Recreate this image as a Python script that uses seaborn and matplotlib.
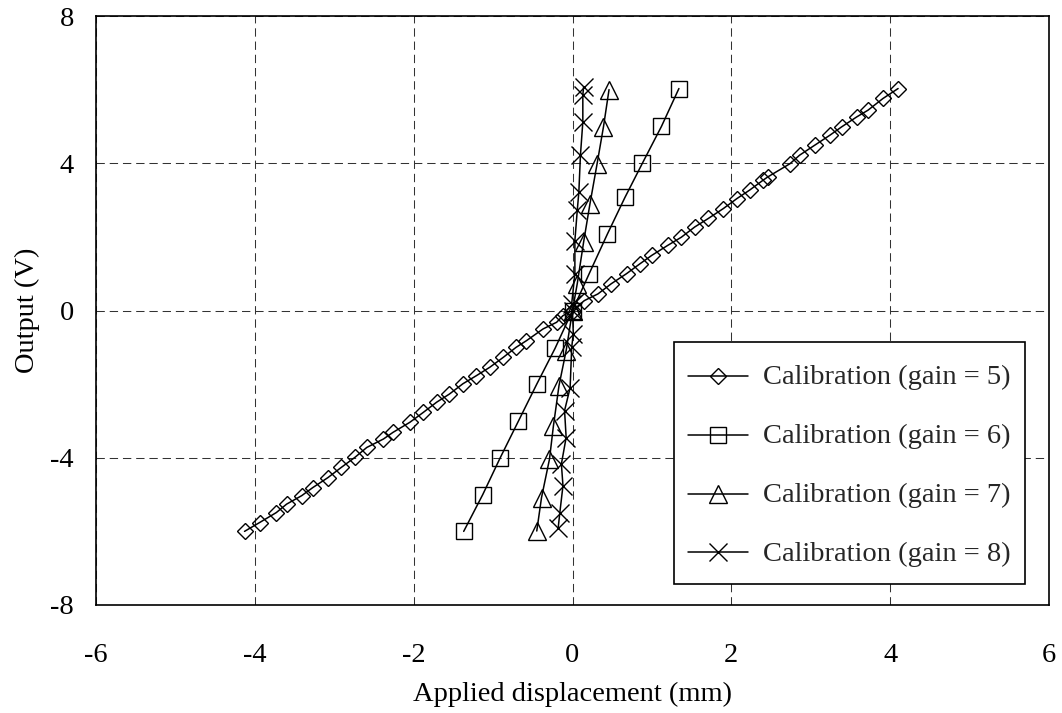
import matplotlib
matplotlib.use("Agg")
import matplotlib.pyplot as plt
from matplotlib.legend_handler import HandlerLine2D
import pandas as pd
import seaborn as sns

# Calibration readings: applied displacement (mm) vs. sensor output (V)
gain5_disp = [-4.13, -3.94, -3.73, -3.60, -3.41, -3.27, -3.08, -2.91, -2.74, -2.59,
              -2.38, -2.26, -2.05, -1.88, -1.71, -1.55, -1.38, -1.21, -1.04, -0.87,
              -0.71, -0.58, -0.37, -0.20, -0.12, 0.00, 0.15, 0.32, 0.49, 0.68,
              0.85, 1.00, 1.20, 1.37, 1.54, 1.71, 1.90, 2.07, 2.23, 2.40,
              2.46, 2.74, 2.86, 3.05, 3.24, 3.39, 3.58, 3.72, 3.91, 4.10]
gain5_out = [-6.00, -5.76, -5.49, -5.26, -5.03, -4.81, -4.54, -4.26, -3.99, -3.72,
             -3.49, -3.31, -3.04, -2.77, -2.49, -2.27, -1.99, -1.77, -1.54, -1.27,
             -1.00, -0.82, -0.50, -0.32, -0.14, 0.00, 0.27, 0.45, 0.73, 1.00,
             1.27, 1.50, 1.77, 1.99, 2.27, 2.50, 2.77, 3.04, 3.27, 3.54,
             3.63, 3.99, 4.22, 4.49, 4.76, 4.99, 5.26, 5.44, 5.76, 6.03]

gain6_disp = [-1.37, -1.13, -0.91, -0.68, -0.45, -0.22, 0.00, 0.21, 0.44, 0.66, 0.88, 1.12, 1.34]
gain6_out = [-6.00, -5.00, -4.00, -3.00, -2.00, -1.03, 0.00, 1.00, 2.08, 3.07, 4.00, 5.00, 6.03]

gain7_disp = [-0.45, -0.39, -0.29, -0.24, -0.17, -0.08, 0.00, 0.06, 0.14, 0.22, 0.31, 0.39, 0.46]
gain7_out = [-5.99, -5.08, -4.04, -3.13, -2.04, -1.09, 0.00, 0.73, 1.86, 2.90, 3.99, 4.99, 6.00]

gain8_disp = [-0.18, -0.16, -0.12, -0.14, -0.08, -0.10, -0.03, -0.01, 0.01, 0.00,
              -0.01, 0.03, 0.03, 0.06, 0.08, 0.10, 0.13, 0.13, 0.14]
gain8_out = [-5.90, -5.50, -4.76, -4.17, -3.45, -2.72, -2.10, -1.00, -0.63, 0.00,
             0.19, 1.00, 1.90, 2.72, 3.22, 4.22, 5.12, 5.85, 6.08]

labels = ["Calibration (gain = 5)", "Calibration (gain = 6)",
          "Calibration (gain = 7)", "Calibration (gain = 8)"]
x_ticks = [-6, -4, -2, 0, 2, 4, 6]
y_ticks = [-8, -4, 0, 4, 8]

sns.set_theme(style="white")
plt.rcParams["font.family"] = ["Liberation Serif", "DejaVu Serif"]
plt.rcParams["axes.unicode_minus"] = False
FS = 20.5


class CenteredLineHandler(HandlerLine2D):
    """Line handler whose sample sits level with the middle of the label text."""

    def __init__(self, drop, **kw):
        super().__init__(**kw)
        self.drop = drop

    def create_artists(self, legend, orig_handle, xdescent, ydescent,
                       width, height, fontsize, trans):
        return super().create_artists(legend, orig_handle, xdescent,
                                      ydescent + 2 * self.drop, width, height,
                                      fontsize, trans)


fig = plt.figure(figsize=(10.62, 7.13), dpi=100)
ax = fig.add_axes([96 / 1062, 1 - 605 / 713, (1049 - 96) / 1062, (605 - 16) / 713])

series = [
    (gain5_disp, gain5_out, "D", 8.6),
    (gain6_disp, gain6_out, "s", 11.5),
    (gain7_disp, gain7_out, "^", 13.5),
    (gain8_disp, gain8_out, "x", 13.5),
]

for (xs, ys, mk, ms), lab in zip(series, labels):
    df = pd.DataFrame({"disp": xs, "out": ys})
    sns.lineplot(data=df, x="disp", y="out", ax=ax, sort=False, estimator=None,
                 color="black", linewidth=1.1, marker=mk, markersize=ms,
                 markerfacecolor="none", markeredgecolor="black",
                 markeredgewidth=1.0, label=lab, legend=False)

ax.set_xlim(-6, 6)
ax.set_ylim(-8, 8)
ax.set_xticks(x_ticks)
ax.set_yticks(y_ticks)
ax.set_xticklabels([str(t) for t in x_ticks])
ax.set_yticklabels([str(t) for t in y_ticks])
ax.tick_params(axis="both", length=0, labelsize=FS, colors="black")
ax.tick_params(axis="x", pad=27)
ax.tick_params(axis="y", pad=16)

ax.grid(True, color="#333333", linewidth=0.75, linestyle=(0, (8, 4.7)))
for sp in ax.spines.values():
    sp.set_color("black")
    sp.set_linewidth(1.2)

ax.set_xlabel("Applied displacement (mm)", fontsize=FS, color="black")
ax.set_ylabel("Output (V)", fontsize=FS, color="black")
ax.xaxis.set_label_coords(0.5, -0.13)
ax.yaxis.set_label_coords(-0.059, 0.5)

handles, _ = ax.get_legend_handles_labels()
handler = CenteredLineHandler(drop=3.8)
leg = ax.legend(handles, labels, loc="lower right",
                bbox_to_anchor=((1025 - 96) / 953, (605 - 584) / 589),
                borderaxespad=0, fontsize=FS, frameon=True, fancybox=False,
                edgecolor="black", framealpha=1, handlelength=2.1,
                handleheight=1.59, handletextpad=0.53, labelspacing=0.79,
                borderpad=0.5, handler_map={h: handler for h in handles})
leg.get_frame().set_linewidth(1.2)

fig.savefig("out.png", dpi=100, facecolor="white")
